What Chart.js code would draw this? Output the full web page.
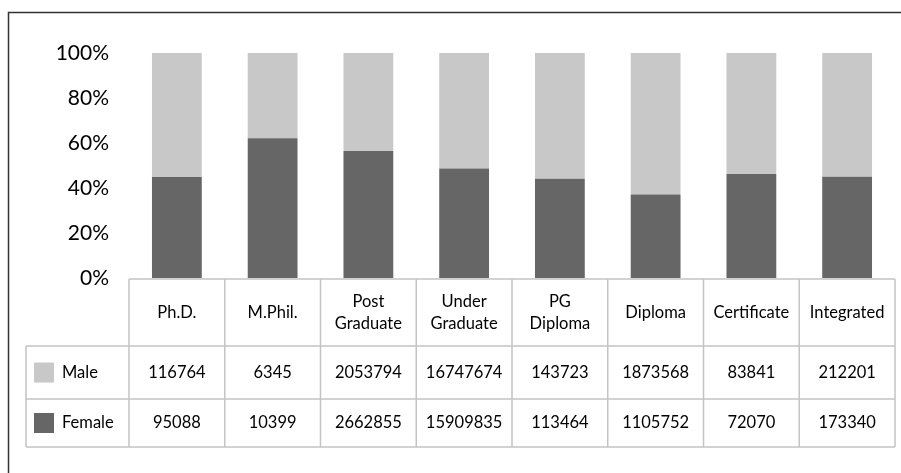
<!DOCTYPE html>
<html>
<head>
<meta charset="utf-8">
<script src="https://cdn.jsdelivr.net/npm/chart.js@4"></script>
<style>
  body { margin: 0; background: #fff; }
  #wrap { position: relative; width: 901px; height: 473px; }
</style>
</head>
<body>
<div id="wrap"><canvas id="eduChart" width="901" height="473"></canvas></div>
<script>
const categories = [['Ph.D.'], ['M.Phil.'], ['Post', 'Graduate'], ['Under', 'Graduate'], ['PG', 'Diploma'], ['Diploma'], ['Certificate'], ['Integrated']];
const male = [116764, 6345, 2053794, 16747674, 143723, 1873568, 83841, 212201];
const female = [95088, 10399, 2662855, 15909835, 113464, 1105752, 72070, 173340];
const yTicks = [0, 20, 40, 60, 80, 100];

const maleColor = '#c8c8c8';
const femaleColor = '#666666';
const font = 'Lato, "Open Sans", sans-serif';

// share of each group in its category (100% stacked)
const pct = (arr) => arr.map((v, i) => v / (male[i] + female[i]) * 100);

// frame + data table drawn under the plot, using the x scale for columns
const tablePlugin = {
  id: 'dataTable',
  beforeDraw(chart) {
    const ctx = chart.ctx;
    ctx.save();
    ctx.strokeStyle = '#333';
    ctx.lineWidth = 1.5;
    ctx.beginPath();
    ctx.moveTo(8.5, 480);
    ctx.lineTo(8.5, 12.5);
    ctx.lineTo(910, 12.5);
    ctx.stroke();
    ctx.restore();
  },
  afterDraw(chart) {
    const ctx = chart.ctx;
    const x = chart.scales.x;
    const area = chart.chartArea;
    const n = categories.length;
    const colW = (area.right - area.left) / n;
    const top = area.bottom + 1;
    const rowTops = [top, 346, 399, 447];
    const legendLeft = 26;

    ctx.save();
    ctx.strokeStyle = '#c4c4c4';
    ctx.lineWidth = 1.5;
    ctx.beginPath();
    ctx.moveTo(area.left, rowTops[0]); ctx.lineTo(area.right, rowTops[0]);
    for (let r = 1; r < rowTops.length; r++) {
      ctx.moveTo(legendLeft, rowTops[r]); ctx.lineTo(area.right, rowTops[r]);
    }
    for (let c = 0; c <= n; c++) {
      const xx = area.left + c * colW;
      ctx.moveTo(xx, rowTops[0]); ctx.lineTo(xx, rowTops[3]);
    }
    ctx.moveTo(legendLeft, rowTops[1]); ctx.lineTo(legendLeft, rowTops[3]);
    ctx.stroke();

    ctx.fillStyle = '#000';
    ctx.font = '16.5px ' + font;
    ctx.textAlign = 'center';
    ctx.textBaseline = 'middle';
    categories.forEach((lab, i) => {
      const cx = x.getPixelForValue(i);
      const mid = (rowTops[0] + rowTops[1]) / 2;
      if (lab.length === 1) {
        ctx.fillText(lab[0], cx, mid);
      } else {
        ctx.fillText(lab[0], cx, mid - 11);
        ctx.fillText(lab[1], cx, mid + 11);
      }
      ctx.fillText(String(male[i]), cx, (rowTops[1] + rowTops[2]) / 2);
      ctx.fillText(String(female[i]), cx, (rowTops[2] + rowTops[3]) / 2);
    });

    // legend keys in the row headers
    const rows = [['Male', maleColor], ['Female', femaleColor]];
    rows.forEach((row, r) => {
      const mid = (rowTops[r + 1] + rowTops[r + 2]) / 2;
      ctx.fillStyle = row[1];
      ctx.fillRect(34, mid - 10, 20, 20);
      ctx.fillStyle = '#000';
      ctx.textAlign = 'left';
      ctx.fillText(row[0], 62, mid);
    });
    ctx.restore();
  }
};

new Chart(document.getElementById('eduChart'), {
  type: 'bar',
  data: {
    labels: categories.map(c => c.join(' ')),
    datasets: [
      { label: 'Female', data: pct(female), backgroundColor: femaleColor },
      { label: 'Male', data: pct(male), backgroundColor: maleColor }
    ]
  },
  options: {
    responsive: false,
    animation: false,
    layout: { padding: { top: 53, bottom: 195, right: 6, left: 0 } },
    plugins: { legend: { display: false }, tooltip: { enabled: false } },
    datasets: { bar: { categoryPercentage: 1, barPercentage: 0.52 } },
    scales: {
      x: { stacked: true, display: false },
      y: {
        stacked: true,
        min: 0,
        max: 100,
        afterFit(scale) { scale.width = 129; },
        afterBuildTicks(scale) { scale.ticks = yTicks.map(v => ({ value: v })); },
        grid: { display: false },
        border: { display: false },
        ticks: {
          padding: 12,
          color: '#000',
          font: { family: font, size: 21 },
          callback: (v) => v + '%'
        }
      }
    }
  },
  plugins: [tablePlugin]
});
</script>
</body>
</html>
